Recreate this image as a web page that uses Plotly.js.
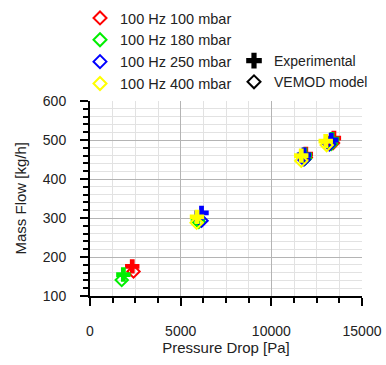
<!DOCTYPE html>
<html>
<head>
<meta charset="utf-8">
<script src="https://cdn.plot.ly/plotly-3.0.1.min.js"></script>
<style>html,body{margin:0;padding:0;background:#fff;}#chart{width:386px;height:365px;}</style>
</head>
<body>
<div id="chart"></div>
<script>
// Series labels and colours
var seriesNames = ['100 Hz 100 mbar', '100 Hz 180 mbar', '100 Hz 250 mbar', '100 Hz 400 mbar'];
var seriesColors = ['#ff0000', '#00ee00', '#0000ff', '#ffff00'];

// Experimental data (pressure drop [Pa], mass flow [kg/h]); null = no point
var expX_100 = [2330, null, 11900, 13450];
var expY_100 = [176, null, 464, 505];
var expX_180 = [1840, 5950, 11850, 13350];
var expY_180 = [155, 298, 462, 502];
var expX_250 = [null, 6150, 11800, 13300];
var expY_250 = [null, 313, 462, 500];
var expX_400 = [null, 5900, 11650, 13000];
var expY_400 = [null, 303, 460, 497];

// VEMOD model data
var modX_100 = [2400, null, 11900, 13400];
var modY_100 = [163, null, 455, 492];
var modX_180 = [1750, 6000, 11850, 13300];
var modY_180 = [141, 290, 452, 490];
var modX_250 = [null, 6150, 11800, 13200];
var modY_250 = [null, 293, 450, 489];
var modX_400 = [null, 5880, 11650, 13050];
var modY_400 = [null, 288, 447, 487];

var expXs = [expX_100, expX_180, expX_250, expX_400];
var expYs = [expY_100, expY_180, expY_250, expY_400];
var modXs = [modX_100, modX_180, modX_250, modX_400];
var modYs = [modY_100, modY_180, modY_250, modY_400];

var traces = [];
for (var i = 0; i < 4; i++) {
  traces.push({
    x: expXs[i], y: expYs[i], type: 'scatter', mode: 'markers',
    name: seriesNames[i] + ' Experimental', showlegend: false, hoverinfo: 'x+y',
    marker: {symbol: 'cross', size: 12, color: seriesColors[i], line: {width: 0}}
  });
  traces.push({
    x: modXs[i], y: modYs[i], type: 'scatter', mode: 'markers',
    name: seriesNames[i] + ' VEMOD model', showlegend: false, hoverinfo: 'x+y',
    marker: {symbol: 'diamond-open', size: 9.5, color: seriesColors[i], line: {width: 2, color: seriesColors[i]}}
  });
}
// legend entries
for (var j = 0; j < 4; j++) {
  traces.push({
    x: [null], y: [null], type: 'scatter', mode: 'markers', name: seriesNames[j],
    legend: 'legend', legendgroup: 'g' + j, showlegend: true,
    marker: {symbol: 'diamond-open', size: 10, color: seriesColors[j], line: {width: 2, color: seriesColors[j]}}
  });
}
traces.push({
  x: [null], y: [null], type: 'scatter', mode: 'markers', name: 'Experimental',
  legend: 'legend2', legendgroup: 'e', showlegend: true,
  marker: {symbol: 'cross', size: 13, color: '#000000'}
});
traces.push({
  x: [null], y: [null], type: 'scatter', mode: 'markers', name: 'VEMOD model',
  legend: 'legend2', legendgroup: 'm', showlegend: true,
  marker: {symbol: 'diamond-open', size: 10, color: '#000000', line: {width: 2, color: '#000000'}}
});

var fontFam = '"Liberation Sans", Arial, sans-serif';
var layout = {
  width: 386, height: 365,
  margin: {l: 90, r: 24, t: 101, b: 69, pad: 0, autoexpand: false},
  paper_bgcolor: '#ffffff', plot_bgcolor: '#ffffff',
  font: {family: fontFam, size: 14, color: '#222222'},
  xaxis: {
    range: [0, 15000], dtick: 5000, tick0: 0, automargin: false,
    tickformat: 'd', exponentformat: 'none', separatethousands: false,
    showline: true, linecolor: '#000000', linewidth: 2,
    ticks: 'outside', ticklen: 8, tickwidth: 2, tickcolor: '#000000',
    ticklabelstandoff: 13,
    showgrid: true, gridcolor: '#b4b4b4', gridwidth: 1,
    zeroline: false,
    minor: {dtick: 1250, showgrid: true, gridcolor: '#e2e2e2', gridwidth: 1, ticks: 'outside', ticklen: 5, tickwidth: 2, tickcolor: '#000000'},
    title: {text: 'Pressure Drop [Pa]', font: {size: 15, color: '#222222'}, standoff: 4},
    tickfont: {size: 14, color: '#222222'}
  },
  yaxis: {
    range: [100, 600], dtick: 100, tick0: 100, automargin: false,
    showline: true, linecolor: '#000000', linewidth: 2,
    ticks: 'outside', ticklen: 8, tickwidth: 2, tickcolor: '#000000',
    ticklabelstandoff: 11,
    showgrid: true, gridcolor: '#b4b4b4', gridwidth: 1,
    zeroline: false,
    minor: {dtick: 20, showgrid: true, gridcolor: '#e2e2e2', gridwidth: 1, ticks: 'outside', ticklen: 5, tickwidth: 2, tickcolor: '#000000'},
    tickfont: {size: 14, color: '#222222'}
  },
  annotations: [{
    text: 'Mass Flow [kg/h]', textangle: -90,
    xref: 'paper', yref: 'paper', x: -70 / 272, y: 0.5,
    xanchor: 'center', yanchor: 'middle', showarrow: false,
    font: {family: fontFam, size: 15, color: '#222222'}
  }],
  legend: {
    xref: 'container', yref: 'container',
    x: 80 / 386, y: 1 - 2 / 365, xanchor: 'left', yanchor: 'top',
    bgcolor: 'rgba(0,0,0,0)', borderwidth: 0,
    font: {family: fontFam, size: 14.5, color: '#222222'},
    traceorder: 'grouped', tracegroupgap: 0, itemwidth: 30
  },
  legend2: {
    xref: 'container', yref: 'container',
    x: 234 / 386, y: 1 - 45 / 365, xanchor: 'left', yanchor: 'top',
    bgcolor: 'rgba(0,0,0,0)', borderwidth: 0,
    font: {family: fontFam, size: 14, color: '#222222'},
    traceorder: 'grouped', tracegroupgap: 0, itemwidth: 30
  },
  showlegend: true
};

Plotly.newPlot('chart', traces, layout, {displayModeBar: false, staticPlot: true});
</script>
</body>
</html>
